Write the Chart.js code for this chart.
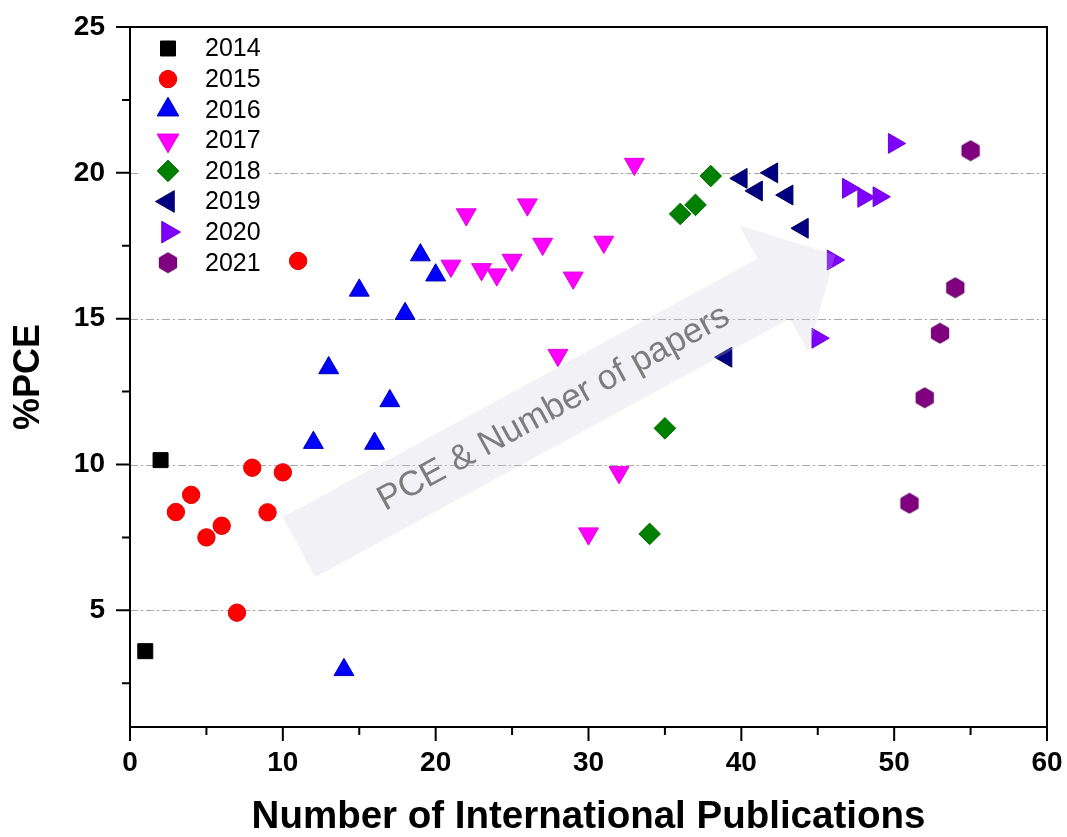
<!DOCTYPE html>
<html><head><meta charset="utf-8">
<script src="https://cdn.jsdelivr.net/npm/chart.js@4.4.1/dist/chart.umd.min.js"></script>
<style>html,body{margin:0;padding:0;background:#fff}#wrap{width:1067px;height:837px}</style>
</head><body><div id="wrap"><canvas id="c" width="1067" height="837"></canvas></div>
<script>
// ---------- data ----------
const years = ['2014','2015','2016','2017','2018','2019','2020','2021'];
const pubs2014 = [1, 2];
const pce2014  = [3.6, 10.15];
const pubs2015 = [3, 4, 5, 6, 7, 8, 9, 10, 11];
const pce2015  = [8.37, 8.96, 7.5, 7.9, 4.92, 9.89, 8.36, 9.73, 16.98];
const pubs2016 = [12, 13, 14, 15, 16, 17, 18, 19, 20];
const pce2016  = [10.75, 13.31, 2.96, 15.97, 10.72, 12.18, 15.17, 17.18, 16.49];
const pubs2017 = [21, 22, 23, 24, 25, 26, 27, 28, 29, 30, 31, 32, 33];
const pce2017  = [16.81, 18.57, 16.69, 16.51, 17.01, 18.91, 17.56, 13.75, 16.40, 7.63, 17.63, 9.73, 20.30];
const pubs2018 = [34, 35, 36, 37, 38];
const pce2018  = [7.62, 11.24, 18.59, 18.9, 19.89];
const pubs2019 = [39, 40, 41, 42, 43, 44];
const pce2019  = [13.68, 19.81, 19.38, 20.0, 19.24, 18.1];
const pubs2020 = [45, 46, 47, 48, 49, 50];
const pce2020  = [14.33, 17.01, 19.47, 19.16, 19.18, 21.01];
const pubs2021 = [51, 52, 53, 54, 55];
const pce2021  = [8.67, 12.29, 14.5, 16.06, 20.76];

const xMajorTicks = [0, 10, 20, 30, 40, 50, 60];
const xMinorTicks = [5, 15, 25, 35, 45, 55];
const yMajorTicks = [5, 10, 15, 20, 25];
const yMinorTicks = [2.5, 7.5, 12.5, 17.5, 22.5];
const yGridValues = [5, 10, 15, 20];

const arrowFrom = [11.06, 7.17];
const arrowTo   = [46.14, 17.18];
const arrowLabel = 'PCE & Number of papers';
const xTitle = 'Number of International Publications';
const yTitle = '%PCE';

// ---------- styles ----------
const FONT = '"Liberation Sans", Arial, Helvetica, sans-serif';

function makeHex(r, fill, stroke) {
  const c = document.createElement('canvas');
  const s = Math.ceil(2 * r + 2);
  c.width = s; c.height = s;
  const g = c.getContext('2d');
  g.beginPath();
  for (let i = 0; i < 6; i++) {
    const a = -Math.PI / 2 + i * Math.PI / 3;
    const px = s / 2 + r * Math.cos(a), py = s / 2 + r * Math.sin(a);
    if (i === 0) g.moveTo(px, py); else g.lineTo(px, py);
  }
  g.closePath();
  g.fillStyle = fill; g.fill();
  g.strokeStyle = stroke; g.lineWidth = 1; g.stroke();
  return c;
}
const hexImg = makeHex(10, '#800080', '#5c005c');

const styles = [
  {color:'#000000', border:'#000000', style:'rect',     rot:0,   r:10.6},
  {color:'#ff0000', border:'#e00000', style:'circle',   rot:0,   r:8.7},
  {color:'#0000ff', border:'#0000b0', style:'triangle', rot:0,   r:11.5},
  {color:'#ff00ff', border:'#e000e0', style:'triangle', rot:180, r:11.5},
  {color:'#008000', border:'#006a00', style:'rectRot',  rot:0,   r:10.8},
  {color:'#000080', border:'#000060', style:'triangle', rot:270, r:11.5},
  {color:'#8000ff', border:'#6a00d8', style:'triangle', rot:90,  r:11.5},
  {color:'#800080', border:'#5c005c', style:hexImg,     rot:0,   r:10},
];
const pubsAll = [pubs2014,pubs2015,pubs2016,pubs2017,pubs2018,pubs2019,pubs2020,pubs2021];
const pceAll  = [pce2014,pce2015,pce2016,pce2017,pce2018,pce2019,pce2020,pce2021];

const datasets = years.map((yr, i) => ({
  label: yr,
  data: pubsAll[i].map((x, j) => ({x: x, y: pceAll[i][j]})),
  pointStyle: styles[i].style,
  rotation: styles[i].rot,
  pointRadius: styles[i].r,
  pointHoverRadius: styles[i].r,
  backgroundColor: styles[i].color,
  borderColor: styles[i].border,
  borderWidth: 1,
  showLine: false,
  clip: false
}));

// ---------- plugins ----------
const gridPlugin = {
  id: 'gridPlugin',
  beforeDatasetsDraw(chart) {
    const {ctx, chartArea: a, scales: {y}} = chart;
    ctx.save();
    ctx.strokeStyle = '#a8a8a8';
    ctx.lineWidth = 1;
    ctx.setLineDash([8, 3, 2, 3]);
    yGridValues.forEach(v => {
      const py = Math.round(y.getPixelForValue(v)) + 0.5;
      ctx.beginPath(); ctx.moveTo(a.left, py); ctx.lineTo(a.right, py); ctx.stroke();
    });
    ctx.restore();
  }
};

function drawMarker(ctx, st, x, y, r) {
  ctx.save();
  ctx.fillStyle = st.color; ctx.strokeStyle = st.border; ctx.lineWidth = 1;
  if (typeof st.style !== 'string') {
    ctx.drawImage(st.style, x - st.style.width / 2, y - st.style.height / 2);
    ctx.restore(); return;
  }
  ctx.beginPath();
  const rad = st.rot * Math.PI / 180;
  if (st.style === 'rect') {
    const s = Math.SQRT1_2 * r; ctx.rect(x - s, y - s, 2 * s, 2 * s);
  } else if (st.style === 'circle') {
    ctx.arc(x, y, r, 0, Math.PI * 2);
  } else if (st.style === 'triangle') {
    for (let k = 0; k < 3; k++) {
      const an = rad + k * 2 * Math.PI / 3;
      const px = x + Math.sin(an) * r, py = y - Math.cos(an) * r;
      if (k === 0) ctx.moveTo(px, py); else ctx.lineTo(px, py);
    }
    ctx.closePath();
  } else if (st.style === 'rectRot') {
    ctx.moveTo(x, y - r); ctx.lineTo(x + r, y); ctx.lineTo(x, y + r); ctx.lineTo(x - r, y); ctx.closePath();
  }
  ctx.fill(); ctx.stroke();
  ctx.restore();
}

const overlayPlugin = {
  id: 'overlayPlugin',
  afterDatasetsDraw(chart) {
    const {ctx, scales: {x, y}} = chart;
    // arrow
    const tx = x.getPixelForValue(arrowFrom[0]), ty = y.getPixelForValue(arrowFrom[1]);
    const px = x.getPixelForValue(arrowTo[0]),   py = y.getPixelForValue(arrowTo[1]);
    const len = Math.hypot(px - tx, py - ty);
    const ux = (px - tx) / len, uy = (py - ty) / len;
    const nx = -uy, ny = ux;
    const sw = 34, hw = 72, hl = 70;
    const bx = px - ux * hl, by = py - uy * hl;
    ctx.save();
    ctx.beginPath();
    ctx.moveTo(tx + nx * sw, ty + ny * sw);
    ctx.lineTo(bx + nx * sw, by + ny * sw);
    ctx.lineTo(bx + nx * hw, by + ny * hw);
    ctx.lineTo(px, py);
    ctx.lineTo(bx - nx * hw, by - ny * hw);
    ctx.lineTo(bx - nx * sw, by - ny * sw);
    ctx.lineTo(tx - nx * sw, ty - ny * sw);
    ctx.closePath();
    ctx.fillStyle = 'rgba(200,198,218,0.25)';
    ctx.fill();
    // label
    const cx = tx + ux * len * 0.475, cy = ty + uy * len * 0.475;
    ctx.translate(cx, cy);
    ctx.rotate(Math.atan2(uy, ux));
    ctx.fillStyle = '#7d7d7d';
    ctx.font = '35px ' + FONT;
    ctx.textAlign = 'center'; ctx.textBaseline = 'middle';
    ctx.fillText(arrowLabel, 0, 0);
    ctx.restore();

    // legend
    ctx.save();
    ctx.fillStyle = '#ffffff';
    ctx.fillRect(138, 33, 131, 246);
    ctx.font = '25px ' + FONT;
    ctx.fillStyle = '#000';
    ctx.textAlign = 'left'; ctx.textBaseline = 'middle';
    years.forEach((yr, i) => {
      const ly = 48.5 + i * 30.6;
      const st = styles[i];
      const r = st.style === 'triangle' ? 12.5 : st.r;
      drawMarker(ctx, st, 168, ly, r);
      ctx.fillStyle = '#000';
      ctx.fillText(yr, 205, ly + 1);
    });
    ctx.restore();
  },
  afterDraw(chart) {
    const {ctx, chartArea: a, scales: {x, y}} = chart;
    ctx.save();
    ctx.strokeStyle = '#000'; ctx.lineWidth = 2;
    ctx.strokeRect(a.left, a.top, a.right - a.left, a.bottom - a.top);
    ctx.beginPath();
    xMajorTicks.forEach(v => { const p = x.getPixelForValue(v); ctx.moveTo(p, a.bottom); ctx.lineTo(p, a.bottom + 14); });
    xMinorTicks.forEach(v => { const p = x.getPixelForValue(v); ctx.moveTo(p, a.bottom); ctx.lineTo(p, a.bottom + 8); });
    yMajorTicks.forEach(v => { const p = y.getPixelForValue(v); ctx.moveTo(a.left, p); ctx.lineTo(a.left - 14, p); });
    yMinorTicks.forEach(v => { const p = y.getPixelForValue(v); ctx.moveTo(a.left, p); ctx.lineTo(a.left - 8, p); });
    ctx.stroke();
    ctx.restore();
  }
};

function zeroPad(s) { s.paddingTop = 0; s.paddingBottom = 0; s.paddingLeft = 0; s.paddingRight = 0; }

new Chart(document.getElementById('c'), {
  type: 'scatter',
  data: { datasets },
  options: {
    responsive: false,
    animation: false,
    events: [],
    layout: { padding: { top: 27, right: 20, left: 0, bottom: 0 } },
    plugins: { legend: { display: false }, tooltip: { enabled: false } },
    scales: {
      x: {
        type: 'linear', min: 0, max: 60,
        afterBuildTicks: s => { s.ticks = xMajorTicks.map(v => ({value: v})); },
        afterFit: s => { s.height = 110; zeroPad(s); },
        grid: { display: false, drawTicks: false },
        border: { display: false },
        ticks: { color: '#000', padding: 19, font: { family: FONT, size: 28, weight: 'bold' }, maxRotation: 0 },
        title: { display: true, text: xTitle, color: '#000', padding: { top: 0, bottom: -3 },
                 font: { family: FONT, size: 38.5, weight: 'bold' } }
      },
      y: {
        type: 'linear', min: 1, max: 25,
        afterBuildTicks: s => { s.ticks = yMajorTicks.map(v => ({value: v})); },
        afterFit: s => { s.width = 130; zeroPad(s); },
        grid: { display: false, drawTicks: false },
        border: { display: false },
        ticks: { color: '#000', padding: 25, font: { family: FONT, size: 28, weight: 'bold' } },
        title: { display: true, text: yTitle, color: '#000', padding: { top: 7, bottom: 0 },
                 font: { family: FONT, size: 36, weight: 'bold' } }
      }
    }
  },
  plugins: [gridPlugin, overlayPlugin]
});
</script>
</body></html>
